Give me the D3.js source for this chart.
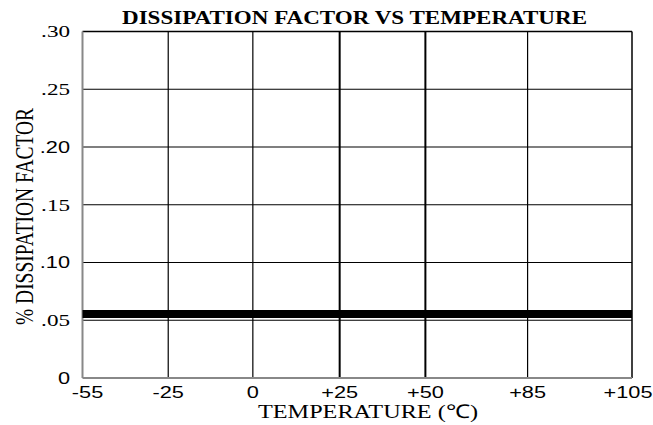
<!DOCTYPE html>
<html>
<head>
<meta charset="utf-8">
<script src="https://cdn.jsdelivr.net/npm/d3@7"></script>
<style>
  body { margin: 0; background: #fff; }
  svg { display: block; }
</style>
</head>
<body>
<svg id="chart"></svg>
<script>
// Chart data
const tempTicks = [-55, -25, 0, 25, 50, 85, 105];
const tempLabels = ["-55", "-25", "0", "+25", "+50", "+85", "+105"];
// tick spacing on the original sheet is not uniform (fraction of plot width)
const tempSpacing = [0, 0.156, 0.310, 0.468, 0.624, 0.810, 1];
const dfTicks = [0, 0.05, 0.10, 0.15, 0.20, 0.25, 0.30];
const dfLabels = ["0", ".05", ".10", ".15", ".20", ".25", ".30"];
const dfLabelSerif = [false, true, false, true, false, true, true];
const seriesTemp = [-55, 105];
const seriesDF = [0.0555, 0.0555];
const boldGrid = [25, 50];

const width = 653, height = 425;
const margin = {top: 31.5, right: 21, bottom: 47, left: 82.5};
const pw = width - margin.left - margin.right;
const ph = height - margin.top - margin.bottom;

const serif = "'Liberation Serif', 'Times New Roman', serif";
const sans = "'Liberation Sans', Arial, sans-serif";
// the original sheet is stretched sideways, text included
const stretch = 1.36;

const svg = d3.select("#chart").attr("width", width).attr("height", height);

const x = d3.scaleLinear()
            .domain(tempTicks)
            .range(tempSpacing.map(f => f * pw));
const y = d3.scaleLinear().domain([0, 0.30]).range([ph, 0]);

const g = svg.append("g").attr("transform", `translate(${margin.left},${margin.top})`);

// Grid
g.append("g")
 .selectAll("line")
 .data(tempTicks.slice(1, -1))
 .join("line")
 .attr("x1", d => x(d)).attr("x2", d => x(d))
 .attr("y1", 0).attr("y2", ph)
 .attr("stroke", "#000")
 .attr("stroke-width", d => boldGrid.includes(d) ? 2 : 1.2);

g.append("g")
 .selectAll("line")
 .data(dfTicks.slice(1, -1))
 .join("line")
 .attr("x1", 0).attr("x2", pw)
 .attr("y1", d => y(d)).attr("y2", d => y(d))
 .attr("stroke", "#000")
 .attr("stroke-width", 1.2);

// Frame: top and right black, left and bottom gray
g.append("line").attr("x1", 0).attr("x2", pw).attr("y1", 0).attr("y2", 0)
 .attr("stroke", "#000").attr("stroke-width", 1.5);
g.append("line").attr("x1", pw).attr("x2", pw).attr("y1", 0).attr("y2", ph)
 .attr("stroke", "#000").attr("stroke-width", 1.5);
g.append("line").attr("x1", 0).attr("x2", 0).attr("y1", 0).attr("y2", ph)
 .attr("stroke", "#888").attr("stroke-width", 2);
g.append("line").attr("x1", 0).attr("x2", pw).attr("y1", ph).attr("y2", ph)
 .attr("stroke", "#888").attr("stroke-width", 2);

// Data line
const line = d3.line()
               .x((d, i) => x(seriesTemp[i]))
               .y(d => y(d));
g.append("path")
 .datum(seriesDF)
 .attr("d", line)
 .attr("fill", "none")
 .attr("stroke", "#000")
 .attr("stroke-width", 8);

// X tick labels
g.append("g")
 .selectAll("text")
 .data(tempTicks)
 .join("text")
 .attr("transform", (d, i) => {
     let dx = i === 0 ? 5 : (i === tempTicks.length - 1 ? -4 : 0);
     return `translate(${x(d) + dx},${ph + 20}) scale(${stretch},1)`;
 })
 .attr("text-anchor", "middle")
 .style("font-family", sans)
 .style("font-size", "16px")
 .text((d, i) => tempLabels[i]);

// Y tick labels
g.append("g")
 .selectAll("text")
 .data(dfTicks)
 .join("text")
 .attr("transform", d => `translate(-12.5,${y(d)}) scale(${stretch},1)`)
 .attr("dy", "0.35em")
 .attr("text-anchor", "end")
 .style("font-family", (d, i) => dfLabelSerif[i] ? serif : sans)
 .style("font-size", (d, i) => dfLabelSerif[i] ? "17px" : "16px")
 .text((d, i) => dfLabels[i]);

// Titles
svg.append("text")
   .attr("x", 354.5)
   .attr("y", 24)
   .attr("text-anchor", "middle")
   .attr("textLength", 465)
   .attr("lengthAdjust", "spacingAndGlyphs")
   .style("font-family", serif)
   .style("font-weight", "bold")
   .style("font-size", "18.5px")
   .text("DISSIPATION FACTOR VS TEMPERATURE");

svg.append("text")
   .attr("x", 368)
   .attr("y", 417.5)
   .attr("text-anchor", "middle")
   .attr("textLength", 220)
   .attr("lengthAdjust", "spacingAndGlyphs")
   .style("font-family", serif)
   .style("font-size", "19px")
   .text("TEMPERATURE (℃)");

svg.append("text")
   .attr("transform", `translate(32.5,216.5) scale(${stretch},1) rotate(-90)`)
   .attr("text-anchor", "middle")
   .attr("textLength", 217)
   .attr("lengthAdjust", "spacingAndGlyphs")
   .style("font-family", serif)
   .style("font-size", "19px")
   .text("% DISSIPATION FACTOR");
</script>
</body>
</html>
